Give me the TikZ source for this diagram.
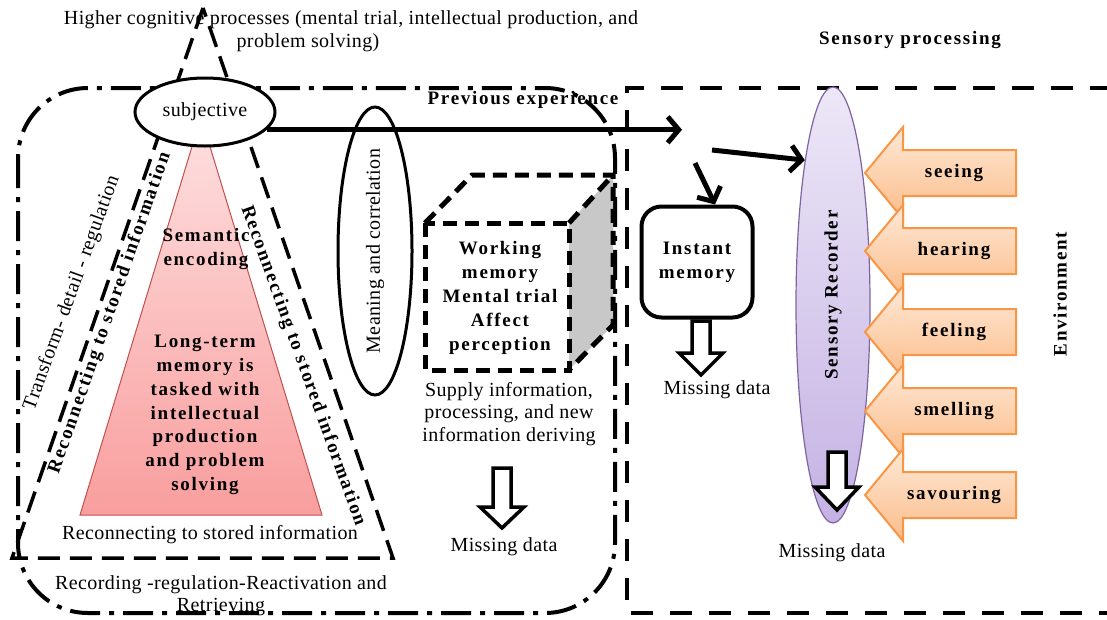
\documentclass[tikz,border=0pt]{standalone}
\usepackage{fontspec}
\setmainfont{Liberation Serif}[LetterSpace=2]
\newfontfamily\bsp{Liberation Serif}[LetterSpace=9]
\usetikzlibrary{shapes.geometric,arrows.meta,calc}

\definecolor{pinktop}{RGB}{254,224,224}
\definecolor{pinkbot}{RGB}{249,158,158}
\definecolor{pinkline}{RGB}{192,80,77}
\definecolor{lilactop}{RGB}{237,231,247}
\definecolor{lilacbot}{RGB}{196,178,228}
\definecolor{lilacline}{RGB}{128,100,162}
\definecolor{peachtop}{RGB}{254,233,214}
\definecolor{peachbot}{RGB}{251,188,138}
\definecolor{peachline}{RGB}{247,150,70}
\definecolor{sideface}{RGB}{200,200,200}

\tikzset{
  txt/.style={font=\fontsize{20}{22.5}\selectfont, inner sep=0pt},
  btxt/.style={font=\bsp\bfseries\fontsize{19}{23.8}\selectfont, inner sep=0pt},
  longdash/.style={line width=3.5pt, dash pattern=on 22pt off 10pt},
  dashdot/.style={line width=4pt, dash pattern=on 30pt off 9pt on 5pt off 9pt},
  sensedash/.style={line width=4pt, dash pattern=on 22pt off 17pt},
  cubedash/.style={line width=5pt, dash pattern=on 14pt off 8pt},
  pinkfill/.style={draw=pinkline, line width=1pt, top color=pinktop, bottom color=pinkbot},
  orangearrow/.style={draw=peachline, line width=2pt, top color=peachtop, bottom color=peachbot},
  hollow/.style={draw, fill=white, line width=3.5pt, line join=miter},
  blackarrow/.style={line width=5pt, -{Straight Barb[length=11pt,width=26pt]}},
}

% hollow downward block arrow: centre x, top of shaft, top of head, tip
\newcommand\holdown[4]{%
  \draw[hollow] (#1-9,#2) -- (#1+9,#2) -- (#1+9,#3) -- (#1+22,#3) -- (#1,#4)
    -- (#1-22,#3) -- (#1-9,#3) -- cycle;}

\begin{document}
\begin{tikzpicture}[x=1pt,y=-1pt]
\useasboundingbox (0,0) rectangle (1107,619);

% triangle of the higher cognitive processes
\draw[longdash] (203,8) -- (12,558) -- (393,558) -- cycle;

% memory region frame
\draw[dashdot, rounded corners=70pt] (18,88) rectangle (615,613);

% sensory processing frame
\draw[sensedash] (1112,88) -- (627,88) -- (627,613) -- (1112,613);

% long-term memory triangle
\path[pinkfill] (201,117) -- (80,515) -- (322,515) -- cycle;

\node[ellipse, draw, line width=3pt, fill=white, minimum width=140pt,
      minimum height=68pt, inner sep=0pt, txt] (subj) at (205,112) {subjective};

\node[ellipse, draw, line width=3pt, minimum width=74pt, minimum height=288pt,
      inner sep=0pt] (mean) at (375,251) {};
\node[txt, rotate=90] (meantxt) at (mean) {Meaning and correlation};

% working memory cube
\fill[sideface] (569,223) -- (613,175) -- (613,325) -- (569,370) -- cycle;
\draw[cubedash] (425,223) rectangle (569,370);
\draw[cubedash] (425,223) -- (472,175) -- (613,175) -- (613,325) -- (569,370);
\draw[cubedash] (569,223) -- (613,175);
\node[btxt, align=center] (wm) at (500,298) {Working\\memory\\Mental trial\\Affect\\perception};

% instant memory
\node[draw, line width=4pt, rounded corners=20pt, minimum width=111pt,
      minimum height=111pt, btxt, align=center] (inst) at (697,262) {Instant\\memory};

% sensory recorder
\node[ellipse, minimum width=74pt, minimum height=436pt, inner sep=0pt,
      draw=lilacline, line width=1.2pt, top color=lilactop, bottom color=lilacbot]
      (rec) at (833,305) {};
\node[btxt, rotate=90] (rectxt) at (833,295) {Sensory Recorder};

% the five senses
\foreach \n/\cy in {seeing/173, hearing/251, feeling/332, smelling/411, savouring/495}{
  \path[orangearrow] (1016,\cy-23) -- (903,\cy-23) -- (903,\cy-46) -- (865,\cy)
     -- (903,\cy+46) -- (903,\cy+23) -- (1016,\cy+23) -- cycle;
  \node[btxt] (\n) at (954,\cy) {\n};
}

% missing data arrows
\holdown{502}{468}{507}{528}
\holdown{701}{321}{353}{375}
\holdown{837}{452}{487}{510}

% flow arrows
\coordinate (pe) at (682,129);
\draw[blackarrow] (subj.-16) -- (subj.-16 -| pe);
\coordinate (s2) at (712,150);
\draw[blackarrow] (s2) -- (rec.101);
\coordinate (s3) at (695,163);
\draw[blackarrow] (s3) -- ($(inst.north)+(18,0)$);

% labels
\node[txt] (hi1) at (351,20) {Higher cognitive processes (mental trial, intellectual production, and};
\node[txt] (hi2) at (308,43) {problem solving)};
\node[txt, rotate=70] (tdr) at (72,293) {Transform- detail - regulation};
\node[btxt, rotate=70.8] (rcl) at (110,313) {Reconnecting to stored information};
\node[btxt, rotate=-70.2] (rcr) at (303,366) {Reconnecting to stored information};
\node[btxt, align=center] (sem) at (206,249) {Semantic\\encoding};
\node[btxt, align=center] (ltm) at (205,415) {Long-term\\memory is\\tasked with\\intellectual\\production\\and problem\\solving};
\node[txt] (rcb) at (210,535) {Reconnecting to stored information};
\node[txt, align=center, font=\fontsize{20}{22}\selectfont] (rrr) at (221,596) {Recording -regulation-Reactivation and\\Retrieving};
\node[btxt] (prev) at (523,100) {Previous experience};
\node[txt, align=center] (sup) at (509,414) {Supply information,\\processing, and new\\information deriving};
\node[txt] (md1) at (504,547) {Missing data};
\node[txt] (md2) at (717,390) {Missing data};
\node[txt] (md3) at (832,553) {Missing data};
\node[btxt] (sp) at (910,40) {Sensory processing};
\node[btxt, rotate=90] (env) at (1060,294) {Environment};
\end{tikzpicture}
\end{document}
